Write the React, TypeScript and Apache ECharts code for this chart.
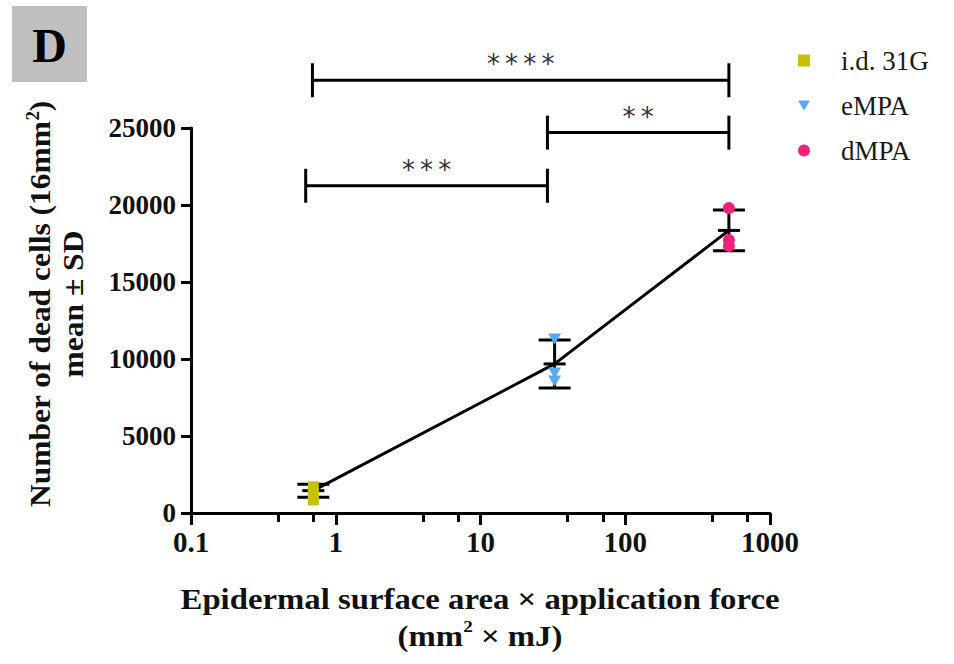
import React, { useEffect, useRef } from "react";
import * as echarts from "echarts";

const groups = ["i.d. 31G", "eMPA", "dMPA"];
const groupColors = ["#c8c10a", "#5aa9f0", "#f0227c"];
const xValues = [0.7, 32.5, 520];
const meanValues = [1450, 9680, 18350];
const sdValues = [420, 1560, 1320];
const idPoints = [1700, 1300, 850];
const empaPoints = [11300, 9090, 8570];
const dmpaPoints = [19800, 17730, 17340];
const xTickLabels = ["0.1", "1", "10", "100", "1000"];
const xMinorTicks = [0.4, 0.7, 4, 7, 40, 70, 400, 700];
const yTicks = [0, 5000, 10000, 15000, 20000, 25000];

const bracketLabels = ["****", "**", "***"];
const bracketFrom = [0.69, 29, 0.62];
const bracketTo = [520, 520, 29];
const bracketY = [28100, 24700, 21250];

const SERIF = "'Liberation Serif', 'Times New Roman', serif";
const triPath = "path://M0,0 L12,0 L6,10 Z";

export default function App() {
  const ref = useRef<HTMLDivElement>(null);
  useEffect(() => {
    if (!ref.current) return;
    const chart = echarts.init(ref.current, null, { renderer: "svg" });
    const lx = xValues.map((v) => Math.log10(v));
    const pointSets = [idPoints, empaPoints, dmpaPoints];
    const symbols = ["rect", triPath, "circle"];
    const sizes = [[11, 11], [13, 11], [12, 12]];

    const scatterSeries = pointSets.map((pts, i) => ({
      type: "scatter",
      name: groups[i],
      data: pts.map((v) => [lx[i], v]),
      symbol: symbols[i],
      symbolSize: sizes[i],
      itemStyle: { color: groupColors[i], opacity: 1 },
      z: 5,
      silent: true,
    }));

    const option: any = {
      animation: false,
      backgroundColor: "#ffffff",
      grid: { left: 191, right: 184, top: 128, bottom: 151, containLabel: false },
      legend: {
        orient: "vertical",
        left: 793,
        top: 42,
        itemWidth: 12,
        itemHeight: 12,
        itemGap: 18,
        selectedMode: false,
        textStyle: {
          fontFamily: SERIF,
          fontSize: 27,
          color: "#1a1a1a",
          padding: [0, 0, 0, 26],
        },
        data: [
          { name: groups[0], icon: "rect" },
          { name: groups[1], icon: triPath },
          { name: groups[2], icon: "circle" },
        ],
      },
      xAxis: [
        {
          type: "value",
          min: -1,
          max: 3,
          interval: 1,
          axisLine: { show: true, onZero: false, lineStyle: { color: "#000", width: 3 } },
          axisTick: { show: true, length: 12, lineStyle: { color: "#000", width: 3 } },
          splitLine: { show: false },
          axisLabel: {
            formatter: (v: number) => xTickLabels[Math.round(v) + 1],
            fontFamily: SERIF,
            fontWeight: "bold",
            fontSize: 29,
            color: "#111",
            margin: 14,
          },
        },
        {
          type: "value",
          min: -1,
          max: 3,
          position: "bottom",
          axisLine: { show: false, onZero: false },
          axisTick: {
            show: true,
            length: 9,
            customValues: xMinorTicks.map((v) => Math.log10(v)),
            lineStyle: { color: "#000", width: 3 },
          },
          axisLabel: { show: false },
          splitLine: { show: false },
        },
      ],
      yAxis: {
        type: "value",
        min: 0,
        max: 25000,
        interval: 5000,
        axisLine: { show: true, onZero: false, lineStyle: { color: "#000", width: 3 } },
        axisTick: { show: true, length: 10, lineStyle: { color: "#000", width: 3 } },
        splitLine: { show: false },
        axisLabel: {
          fontFamily: SERIF,
          fontWeight: "bold",
          fontSize: 27,
          color: "#111",
          margin: 15,
          formatter: (v: number) => (yTicks.includes(v) ? String(v) : ""),
        },
      },
      graphic: [
        { type: "rect", left: 12, top: 6, shape: { width: 75, height: 76 }, style: { fill: "#bfbfbf" }, z: 1 },
        {
          type: "text",
          x: 49.5,
          y: 45,
          style: {
            text: "D",
            fontFamily: SERIF,
            fontWeight: "bold",
            fontSize: 48,
            fill: "#000",
            align: "center",
            verticalAlign: "middle",
          },
          z: 2,
        },
        {
          type: "text",
          x: 57,
          y: 304,
          rotation: Math.PI / 2,
          scaleX: 1.05,
          style: {
            text: "{a|Number of dead cells (16mm}{s|2}{a|)}\n{a|mean ± SD}",
            align: "center",
            verticalAlign: "middle",
            rich: {
              a: { fontFamily: SERIF, fontWeight: "bold", fontSize: 30, fill: "#111", lineHeight: 33 },
              s: { fontFamily: SERIF, fontWeight: "bold", fontSize: 18, fill: "#111", lineHeight: 33, verticalAlign: "top", padding: [0, 0, 12, 0] },
            },
          },
        },
        {
          type: "text",
          x: 480,
          y: 618,
          scaleX: 1.13,
          style: {
            text: "{a|Epidermal surface area × application force}\n{a|(mm}{s|2}{a| × mJ)}",
            align: "center",
            verticalAlign: "middle",
            rich: {
              a: { fontFamily: SERIF, fontWeight: "bold", fontSize: 29, fill: "#111", lineHeight: 37, align: "center" },
              s: { fontFamily: SERIF, fontWeight: "bold", fontSize: 17, fill: "#111", lineHeight: 37, verticalAlign: "top", padding: [0, 0, 12, 0] },
            },
          },
        },
      ],
      series: [
        {
          type: "line",
          data: lx.map((x, i) => [x, meanValues[i]]),
          symbol: "none",
          lineStyle: { color: "#000", width: 3 },
          z: 2,
          silent: true,
        },
        {
          type: "custom",
          clip: false,
          z: 3,
          silent: true,
          data: lx.map((x, i) => [x, meanValues[i], sdValues[i]]),
          renderItem: (params: any, api: any) => {
            const x = api.value(0);
            const m = api.value(1);
            const sd = api.value(2);
            const top = api.coord([x, m + sd]);
            const bot = api.coord([x, m - sd]);
            const mid = api.coord([x, m]);
            const cw = 16;
            const mw = 11;
            const st = { stroke: "#000", lineWidth: 3 };
            return {
              type: "group",
              children: [
                { type: "line", shape: { x1: top[0], y1: top[1], x2: bot[0], y2: bot[1] }, style: st },
                { type: "line", shape: { x1: top[0] - cw, y1: top[1], x2: top[0] + cw, y2: top[1] }, style: st },
                { type: "line", shape: { x1: bot[0] - cw, y1: bot[1], x2: bot[0] + cw, y2: bot[1] }, style: st },
                { type: "line", shape: { x1: mid[0] - mw, y1: mid[1], x2: mid[0] + mw, y2: mid[1] }, style: st },
              ],
            };
          },
        },
        ...scatterSeries,
        {
          type: "custom",
          clip: false,
          z: 3,
          silent: true,
          data: bracketLabels.map((l, i) => [Math.log10(bracketFrom[i]), Math.log10(bracketTo[i]), bracketY[i]]),
          renderItem: (params: any, api: any) => {
            const i = params.dataIndex;
            const p1 = api.coord([api.value(0), api.value(2)]);
            const p2 = api.coord([api.value(1), api.value(2)]);
            const h = 17;
            const st = { stroke: "#000", lineWidth: 3 };
            return {
              type: "group",
              children: [
                { type: "line", shape: { x1: p1[0], y1: p1[1], x2: p2[0], y2: p2[1] }, style: st },
                { type: "line", shape: { x1: p1[0], y1: p1[1] - h, x2: p1[0], y2: p1[1] + h }, style: st },
                { type: "line", shape: { x1: p2[0], y1: p2[1] - h, x2: p2[0], y2: p2[1] + h }, style: st },
                {
                  type: "text",
                  x: (p1[0] + p2[0]) / 2,
                  y: p1[1] - 3,
                  style: {
                    text: bracketLabels[i].split("").join("\u2009"),
                    fontFamily: "'DejaVu Sans', sans-serif",
                    fontSize: 26,
                    fill: "#333",
                    align: "center",
                    verticalAlign: "bottom",
                  },
                },
              ],
            };
          },
        },
      ],
    };
    chart.setOption(option);
    return () => chart.dispose();
  }, []);
  return (
    <div
      ref={ref}
      style={{ position: "fixed", left: 0, top: 0, width: 954, height: 664, background: "#fff" }}
    />
  );
}
